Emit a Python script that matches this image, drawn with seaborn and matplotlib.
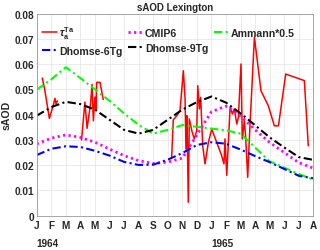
import numpy as np
import pandas as pd
import seaborn as sns
import matplotlib
matplotlib.use("Agg")
import matplotlib.pyplot as plt

# ---------------- data (month index 0 = Jan 1964) ----------------
months = list(range(20))
month_labels = ["J", "F", "M", "A", "M", "J", "J", "A", "S", "O", "N", "D",
                "J", "F", "M", "A", "M", "J", "J", "A"]
year_labels = ["1964", "1965"]
year_pos = [0, 12]

cmip6 = [0.0284, 0.0307, 0.0320, 0.0310, 0.0291, 0.0264, 0.0238, 0.0218, 0.0207, 0.0212,
         0.0228, 0.0320, 0.0412, 0.0434, 0.0395, 0.0340, 0.0290, 0.0250, 0.0210, 0.0188]
ammann = [0.0499, 0.0540, 0.0588, 0.0545, 0.0500, 0.0455, 0.0405, 0.0360, 0.0325, 0.0340,
          0.0359, 0.0352, 0.0345, 0.0338, 0.0325, 0.0270, 0.0215, 0.0190, 0.0165, 0.0143]
dhomse6 = [0.0240, 0.0265, 0.0275, 0.0272, 0.0257, 0.0238, 0.0213, 0.0201, 0.0202, 0.0222,
           0.0248, 0.0280, 0.0291, 0.0285, 0.0262, 0.0236, 0.0212, 0.0185, 0.0158, 0.0148]
dhomse9 = [0.0396, 0.0430, 0.0451, 0.0442, 0.0420, 0.0380, 0.0340, 0.0325, 0.0340, 0.0380,
           0.0420, 0.0450, 0.0472, 0.0448, 0.0405, 0.0358, 0.0310, 0.0270, 0.0232, 0.0221]

tau_seg1_x = [0.38, 0.55, 0.87, 1.15, 1.25, 1.33, 1.42]
tau_seg1_y = [0.0545, 0.0500, 0.0385, 0.0440, 0.0465, 0.0442, 0.0455]
tau_seg2_x = [3.08, 3.31, 3.46, 3.70, 3.80, 3.89, 4.00, 4.07, 4.12, 4.35, 4.57]
tau_seg2_y = [0.0300, 0.0450, 0.0346, 0.0445, 0.0520, 0.0376, 0.0470, 0.0420, 0.0528, 0.0528, 0.0460]
tau_seg3_x = [9.27, 9.38, 9.62, 9.84, 10.07, 10.19, 10.25, 10.32, 10.41, 10.48, 10.65, 10.82,
              10.99, 11.06, 11.17, 11.26, 11.40, 11.56, 11.79, 12.02, 12.36, 12.70, 12.86,
              12.93, 13.05, 13.28, 13.44, 13.57, 13.74, 13.85, 14.03, 14.12, 14.26, 14.35,
              14.49, 14.65, 14.95, 15.40, 15.90, 16.32, 16.60, 17.10, 18.38, 18.65]
tau_seg3_y = [0.0235, 0.0380, 0.0396, 0.0416, 0.0574, 0.0462, 0.0264, 0.0396, 0.0053, 0.0383,
              0.0337, 0.0304, 0.0337, 0.0515, 0.0423, 0.0469, 0.0277, 0.0205, 0.0291, 0.0343,
              0.0291, 0.0238, 0.0205, 0.0304, 0.0160, 0.0429, 0.0403, 0.0423, 0.0363, 0.0390,
              0.0601, 0.0304, 0.0376, 0.0310, 0.0152, 0.0363, 0.0707, 0.0495, 0.0436, 0.0356,
              0.0356, 0.0561, 0.0535, 0.0277]

# ---------------- figure ----------------
sns.set_theme(style="whitegrid")
plt.rcParams["font.family"] = ["Liberation Sans", "DejaVu Sans"]
plt.rcParams["font.weight"] = "bold"
plt.rcParams["mathtext.fontset"] = "custom"
plt.rcParams["mathtext.rm"] = "Liberation Sans:bold"
plt.rcParams["mathtext.bf"] = "Liberation Sans:bold"
plt.rcParams["mathtext.it"] = "Liberation Sans:italic"

fig = plt.figure(figsize=(3.2, 2.51), dpi=100)
ax = fig.add_axes([0.1147, 0.1367, 0.8646, 0.8047])
ax.set_facecolor("white")

fs = 7.2
lfs = 7.6
segs = [(tau_seg1_x, tau_seg1_y), (tau_seg2_x, tau_seg2_y), (tau_seg3_x, tau_seg3_y)]
tau_label = r"$\tau_{\mathbf{a}}^{\mathbf{Ta}}$"
for i, (sx, sy) in enumerate(segs):
    sns.lineplot(x=sx, y=sy, ax=ax, color="#ff0000", lw=1.1,
                 label=tau_label if i == 0 else None, legend=False)

df = pd.DataFrame({"m": months, "CMIP6": cmip6, "Ammann*0.5": ammann,
                   "Dhomse-6Tg": dhomse6, "Dhomse-9Tg": dhomse9})
sns.lineplot(data=df, x="m", y="CMIP6", ax=ax, color="#ff00ff", lw=2.0,
             linestyle=(0, (0.8, 1.2)), label="CMIP6", legend=False)
sns.lineplot(data=df, x="m", y="Ammann*0.5", ax=ax, color="#00ff00", lw=1.5,
             linestyle=(0, (4, 1.6, 1, 1.6)), label="Ammann*0.5", legend=False)
sns.lineplot(data=df, x="m", y="Dhomse-6Tg", ax=ax, color="#0000ff", lw=1.5,
             linestyle=(0, (4, 1.6, 1, 1.6)), label="Dhomse-6Tg", legend=False)
sns.lineplot(data=df, x="m", y="Dhomse-9Tg", ax=ax, color="#000000", lw=1.5,
             linestyle=(0, (4, 1.6, 1, 1.6)), label="Dhomse-9Tg", legend=False)

ax.set_xlim(0, 19)
ax.set_ylim(0, 0.08)
ax.set_xticks(months)
ax.set_xticklabels(month_labels, fontsize=fs, fontweight="bold")
yt = [0, 0.01, 0.02, 0.03, 0.04, 0.05, 0.06, 0.07, 0.08]
ax.set_yticks(yt)
ax.set_yticklabels(["0"] + ["%.2f" % v for v in yt[1:]], fontsize=fs, fontweight="bold")
ax.tick_params(axis="both", direction="in", length=2, width=0.5, color="#555555",
               pad=2, labelcolor="#262626")
ax.tick_params(axis="x", pad=3)
ax.grid(True, color="#e8e8e8", lw=0.6)
for s in ax.spines.values():
    s.set_visible(True)
    s.set_color("#999999")
    s.set_linewidth(0.6)

ax.set_xlabel("")
ax.set_ylabel("sAOD", fontsize=7.6, fontweight="bold", labelpad=2)
ax.set_title("sAOD Lexington", fontsize=7.0, fontweight="bold", pad=3)

for yl, yp in zip(year_labels, year_pos):
    ax.text(yp, -0.135, yl, transform=ax.get_xaxis_transform(), ha="left",
            va="center", fontsize=fs, fontweight="bold")

h, l = ax.get_legend_handles_labels()
order = [0, 3, 1, 4, 2]
leg = ax.legend([h[i] for i in order], [l[i] for i in order], ncol=3, loc="upper left",
                bbox_to_anchor=(0.0, 0.975), frameon=False,
                handlelength=1.4, handletextpad=0.2, columnspacing=0.55,
                labelspacing=0.5, borderaxespad=0.3, borderpad=0.2,
                prop={"weight": "bold", "size": lfs})

fig.savefig("out.png", dpi=100)
